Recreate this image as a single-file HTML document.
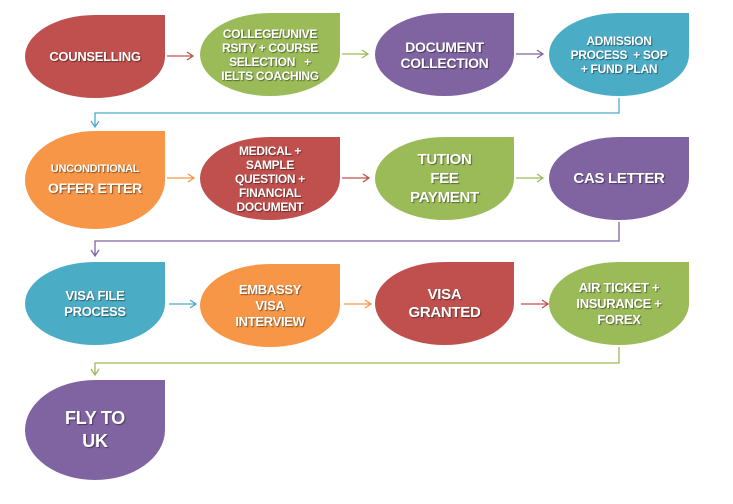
<!DOCTYPE html>
<html><head><meta charset="utf-8"><style>
html,body{margin:0;padding:0;background:#fff;width:733px;height:504px;overflow:hidden;position:relative}
.n{position:absolute;border-radius:50% 0 50% 50%;display:flex;align-items:center;justify-content:center;text-align:center;color:#fff;font-family:"Liberation Sans Narrow","Liberation Sans",sans-serif;font-weight:bold;font-size:12px;line-height:14px;text-shadow:1px 1px 1px rgba(0,0,0,.45);letter-spacing:-0.3px}
.r{background:#c0504d}.g{background:#9bbb59}.p{background:#8064a2}.b{background:#4bacc6}.o{background:#f79646}
svg{position:absolute;left:0;top:0}
</style></head><body>
<svg width="733" height="504" fill="none" stroke-width="1.3">
<g stroke="#c0504d"><path d="M167 56H193M187 52L193 56L187 60"/></g>
<g stroke="#9bbb59"><path d="M342 54H368M362 50L368 54L362 58"/></g>
<g stroke="#8064a2"><path d="M516 54H543M537 50L543 54L537 58"/></g>
<g stroke="#4bacc6"><path d="M619 98V113H95V127M91 121L95 127L99 121"/></g>
<g stroke="#f79646"><path d="M167 178H194M188 174L194 178L188 182"/></g>
<g stroke="#c0504d"><path d="M342 178H369M363 174L369 178L363 182"/></g>
<g stroke="#9bbb59"><path d="M516 178H543M537 174L543 178L537 182"/></g>
<g stroke="#8064a2"><path d="M619 222V241H95V256M91 250L95 256L99 250"/></g>
<g stroke="#4bacc6"><path d="M169 304H196M190 300L196 304L190 308"/></g>
<g stroke="#f79646"><path d="M344 304H371M365 300L371 304L365 308"/></g>
<g stroke="#c0504d"><path d="M521 304H548M542 300L548 304L542 308"/></g>
<g stroke="#9bbb59"><path d="M619 347V363H95V375M91 369L95 375L99 369"/></g>
</svg>
<div class="n r" style="left:25px;top:15px;width:140px;height:83px;font-size:13px">COUNSELLING</div>
<div class="n g" style="left:200px;top:13px;width:140px;height:83px">COLLEGE/UNIVE<br>RSITY + COURSE<br>SELECTION &nbsp; +<br>IELTS COACHING</div>
<div class="n p" style="left:375px;top:13px;width:139px;height:83px;font-size:14px;line-height:16px">DOCUMENT<br>COLLECTION</div>
<div class="n b" style="left:549px;top:13px;width:140px;height:83px">ADMISSION<br>PROCESS &nbsp;+ SOP<br>+ FUND PLAN</div>
<div class="n o" style="left:25px;top:131px;width:140px;height:98px;font-size:11px;line-height:19px"><div>UNCONDITIONAL<br><span style="font-size:14px">OFFER ETTER</span></div></div>
<div class="n r" style="left:200px;top:137px;width:140px;height:83px">MEDICAL +<br>SAMPLE<br>QUESTION +<br>FINANCIAL<br>DOCUMENT</div>
<div class="n g" style="left:375px;top:137px;width:139px;height:83px;font-size:15px;line-height:19px">TUTION<br>FEE<br>PAYMENT</div>
<div class="n p" style="left:549px;top:137px;width:140px;height:83px;font-size:15px">CAS LETTER</div>
<div class="n b" style="left:25px;top:262px;width:140px;height:83px;font-size:13px;line-height:16px">VISA FILE<br>PROCESS</div>
<div class="n o" style="left:200px;top:264px;width:140px;height:83px;font-size:13px;line-height:16px">EMBASSY<br>VISA<br>INTERVIEW</div>
<div class="n r" style="left:375px;top:262px;width:139px;height:83px;font-size:15px;line-height:18px">VISA<br>GRANTED</div>
<div class="n g" style="left:549px;top:262px;width:140px;height:83px;font-size:13px;line-height:16px">AIR TICKET +<br>INSURANCE +<br>FOREX</div>
<div class="n p" style="left:25px;top:380px;width:140px;height:100px;font-size:18px;line-height:23px">FLY TO<br>UK</div>
</body></html>
